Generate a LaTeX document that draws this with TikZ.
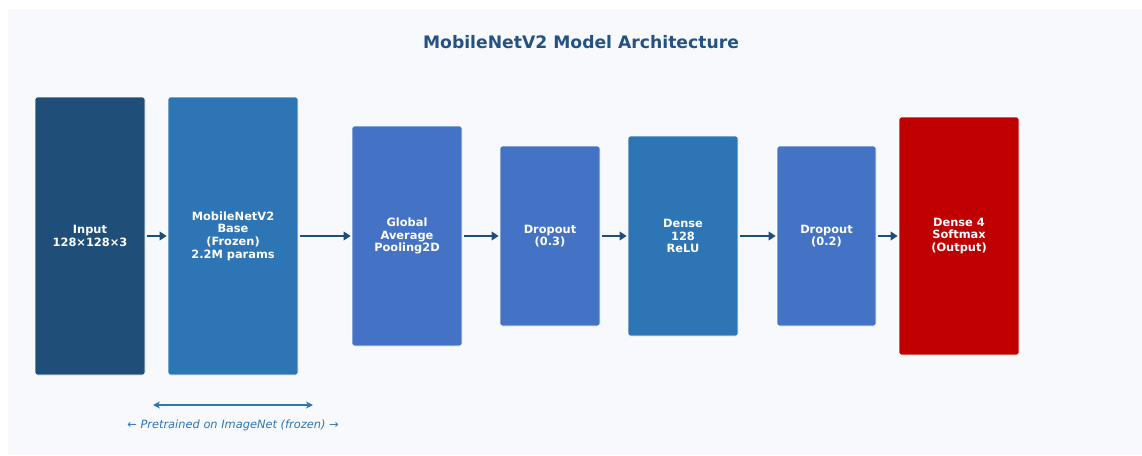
\documentclass[tikz,border=0pt]{standalone}
\usepackage{fontspec}
\setmainfont{DejaVu Sans}
\usetikzlibrary{arrows.meta}
\definecolor{panel}{HTML}{F7F9FC}
\definecolor{navy}{HTML}{1F4E79}
\definecolor{titleblue}{HTML}{245283}
\definecolor{midblue}{HTML}{2E75B6}
\definecolor{lblue}{HTML}{4472C4}
\definecolor{outred}{HTML}{C00000}
\tikzset{
  layer/.style={draw=white, line width=0.6pt, rounded corners=2.5pt, text=white,
    font=\fontsize{11.4}{12.7}\selectfont\bfseries, align=center, inner sep=0pt},
  flow/.style={draw=navy, line width=2.4pt, shorten <=1.5pt, shorten >=1pt,
    -{Triangle[length=7pt,width=8.5pt]}},
}
\begin{document}
\begin{tikzpicture}[x=1pt,y=-1pt]
\useasboundingbox (0,0) rectangle (1142,455);
\fill[white] (0,0) rectangle (1142,455);
\fill[panel] (8,9) rectangle (1142,455);
\node[text=titleblue, font=\fontsize{17.2}{20}\selectfont\bfseries] (title) at (581,42) {MobileNetV2 Model Architecture};
\node[layer, fill=navy, minimum width=110pt, minimum height=278pt] (inp) at (90,236) {Input\\128×128×3};
\node[layer, fill=midblue, minimum width=130pt, minimum height=278pt] (base) at (233,236) {MobileNetV2\\Base\\(Frozen)\\2.2M params};
\node[layer, fill=lblue, minimum width=110pt, minimum height=220pt] (gap) at (407,236) {Global\\Average\\Pooling2D};
\node[layer, fill=lblue, minimum width=100pt, minimum height=180pt] (d1) at (550,236) {Dropout\\(0.3)};
\node[layer, fill=midblue, minimum width=110pt, minimum height=200pt] (dense) at (683,236) {Dense\\128\\ReLU};
\node[layer, fill=lblue, minimum width=99pt, minimum height=180pt] (d2) at (826.5,236) {Dropout\\(0.2)};
\node[layer, fill=outred, minimum width=120pt, minimum height=238pt] (out) at (959,236) {Dense 4\\Softmax\\(Output)};
\draw[flow] (inp) -- (base);
\draw[flow] (base) -- (gap);
\draw[flow] (gap) -- (d1);
\draw[flow] (d1) -- (dense);
\draw[flow] (dense) -- (d2);
\draw[flow] (d2) -- (out);
\coordinate (pl) at (153,405);
\coordinate (pr) at (313,405);
\draw[midblue, line width=1.5pt, {Stealth[length=7pt,width=7pt]}-{Stealth[length=7pt,width=7pt]}] (pl) -- (pr);
\node[text=midblue, font=\fontsize{11.4}{13}\selectfont\itshape] (pre) at (233,425) {← Pretrained on ImageNet (frozen) →};
\end{tikzpicture}
\end{document}
